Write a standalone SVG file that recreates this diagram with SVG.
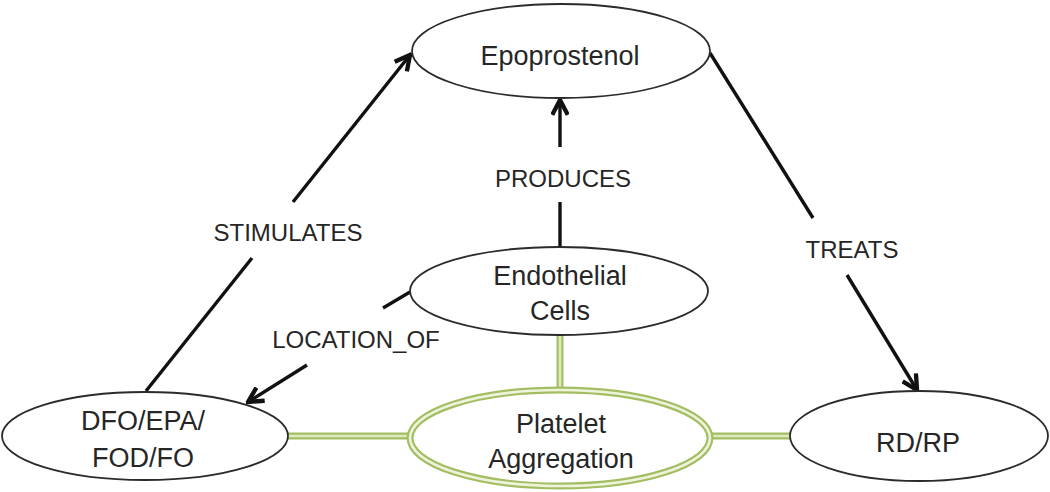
<svg xmlns="http://www.w3.org/2000/svg" width="1050" height="492" viewBox="0 0 1050 492">
<style>
.node{fill:#fff;stroke:#2b2b2b;stroke-width:1.8}
.nt{font-family:"Liberation Sans",Arial,sans-serif;font-size:27px;fill:#262626;text-anchor:middle}
.lt{font-family:"Liberation Sans",Arial,sans-serif;font-size:24px;fill:#262626;text-anchor:middle}
.edge{stroke:#111;stroke-width:3.4;fill:none;stroke-linecap:butt}
.gout{stroke:#a3be62;stroke-width:7;fill:none}
.gin{stroke:#e0eabf;stroke-width:2.6;fill:none}
</style>
<defs>
<marker id="arr" viewBox="0 0 12 12" refX="10.5" refY="6" markerWidth="5.5" markerHeight="5.5" markerUnits="strokeWidth" orient="auto">
<path d="M1,1 L10.5,6 L1,11" fill="none" stroke="#111" stroke-width="2.8" stroke-linejoin="miter"/>
</marker>
</defs>
<rect width="1050" height="492" fill="#fff"/>
<g id="connectors">
<line class="gout" x1="560" y1="335" x2="560" y2="390"/>
<line class="gin" x1="560" y1="335" x2="560" y2="390"/>
<line class="gout" x1="287" y1="436" x2="410" y2="436"/>
<line class="gin" x1="287" y1="436" x2="410" y2="436"/>
<line class="gout" x1="710" y1="436" x2="790" y2="436"/>
<line class="gin" x1="710" y1="436" x2="790" y2="436"/>
<line class="edge" x1="146" y1="391" x2="252" y2="258"/>
<line class="edge" x1="293" y1="202" x2="410" y2="55" marker-end="url(#arr)"/>
<line class="edge" x1="560" y1="248" x2="560" y2="202"/>
<line class="edge" x1="560" y1="147" x2="560" y2="100" marker-end="url(#arr)"/>
<line class="edge" x1="710" y1="53" x2="813" y2="218"/>
<line class="edge" x1="847" y1="275" x2="917" y2="390" marker-end="url(#arr)"/>
<line class="edge" x1="410" y1="292" x2="383" y2="308"/>
<line class="edge" x1="307" y1="365" x2="248" y2="402" marker-end="url(#arr)"/>
<text class="lt" x="288" y="241">STIMULATES</text>
<text class="lt" x="563" y="187">PRODUCES</text>
<text class="lt" x="852" y="258">TREATS</text>
<text class="lt" x="356" y="348">LOCATION_OF</text>
</g>
<g id="node-epoprostenol">
<ellipse class="node" cx="561" cy="51" rx="149" ry="47"/>
<text class="nt" x="560" y="65">Epoprostenol</text>
</g>
<g id="node-endothelial">
<ellipse class="node" cx="559" cy="291" rx="149" ry="44"/>
<text class="nt" x="560" y="285">Endothelial</text>
<text class="nt" x="560" y="320">Cells</text>
</g>
<g id="node-platelet">
<ellipse cx="560" cy="438" rx="150" ry="48" fill="#fff" stroke="#a3be62" stroke-width="7"/>
<ellipse cx="560" cy="438" rx="150" ry="48" fill="none" stroke="#eef3dc" stroke-width="2.6"/>
<text class="nt" x="561" y="433">Platelet</text>
<text class="nt" x="561" y="468">Aggregation</text>
</g>
<g id="node-dfo">
<ellipse class="node" cx="145" cy="436" rx="143" ry="44"/>
<text class="nt" x="143" y="430">DFO/EPA/</text>
<text class="nt" x="143" y="467">FOD/FO</text>
</g>
<g id="node-rdrp">
<ellipse class="node" cx="919" cy="436" rx="129" ry="45"/>
<text class="nt" x="918" y="452">RD/RP</text>
</g>
</svg>
